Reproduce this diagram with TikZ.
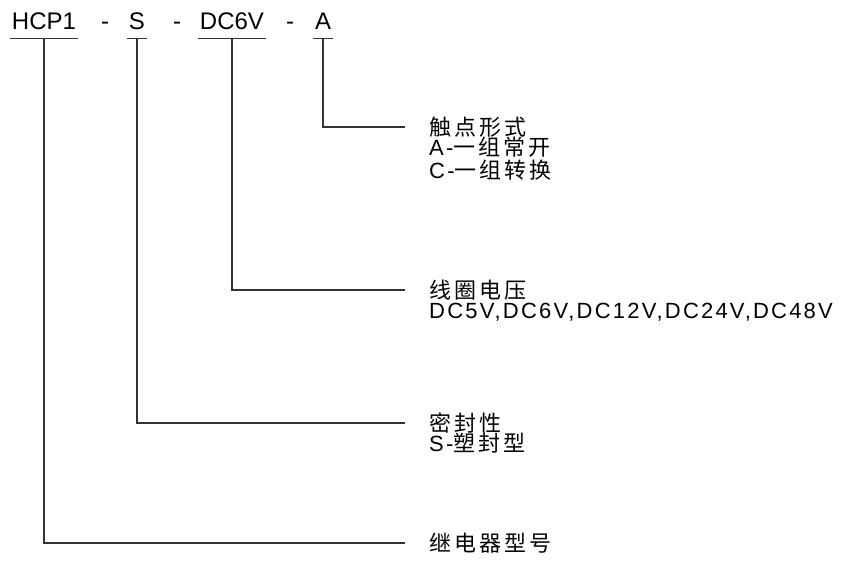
\documentclass[tikz,border=0pt]{standalone}
\usepackage{fontspec}
\setmainfont{Liberation Sans}
\newfontfamily\codefont{Liberation Sans}
\newfontfamily\labfont[LetterSpace=10]{Liberation Sans}
\newfontfamily\cjk[LetterSpace=14]{Noto Sans CJK SC}
\usetikzlibrary{calc}
\newcommand{\zh}[1]{{\cjk #1}}

\tikzset{
  code/.style={font=\codefont\fontsize{24}{28}\selectfont, text depth=0pt,
               inner xsep=2pt, inner ysep=9.7pt, anchor=base},
  sep/.style={font=\codefont\fontsize{24}{28}\selectfont, inner sep=0pt, anchor=base},
  lbl/.style={font=\labfont\fontsize{22}{24}\selectfont, inner sep=0pt, anchor=base west},
  ttl/.style={font=\cjk\fontsize{22}{24}\selectfont, inner sep=0pt, anchor=west},
  wire/.style={line width=1.1pt, draw=black!80}
}

\begin{document}
\begin{tikzpicture}[x=1pt,y=-1pt]
  \useasboundingbox (0,0) rectangle (845,563);

  % Model code parts
  \node (type) at (44,29) [code] {HCP1};
  \node (d1) at (105,29) [sep] {-};
  \node (seal) at (137,29) [code] {S};
  \node (d2) at (177,29) [sep] {-};
  \node (volt) at (232,29) [code] {DC6V};
  \node (d3) at (290,29) [sep] {-};
  \node (cont) at (323,29) [code] {A};

  % Underlines
  \foreach \n in {type,seal,volt,cont}
    \draw [wire] (\n.south west) -- (\n.south east);

  % Contact form
  \node (contT) at (429,127) [ttl] {触点形式};
  \node (contA) at ($ (contT.west) + (0,28.5) $) [lbl] {A-\zh{一组常开}};
  \node (contC) at ($ (contA.base west) + (0,23) $) [lbl] {C-\zh{一组转换}};
  \draw [wire] (cont.south) |- ($ (contT.west) + (-24,0) $);

  % Coil voltage
  \node (voltT) at (429,290) [ttl] {线圈电压};
  \node (voltV) at ($ (voltT.west) + (0,28.5) $) [lbl] {DC5V,DC6V,DC12V,DC24V,DC48V};
  \draw [wire] (volt.south) |- ($ (voltT.west) + (-24,0) $);

  % Sealing
  \node (sealT) at (429,423) [ttl] {密封性};
  \node (sealS) at ($ (sealT.west) + (0,28.5) $) [lbl] {S-\zh{塑封型}};
  \draw [wire] (seal.south) |- ($ (sealT.west) + (-24,0) $);

  % Relay type
  \node (typeT) at (429,543) [ttl] {继电器型号};
  \draw [wire] (type.south) |- ($ (typeT.west) + (-24,0) $);
\end{tikzpicture}
\end{document}
